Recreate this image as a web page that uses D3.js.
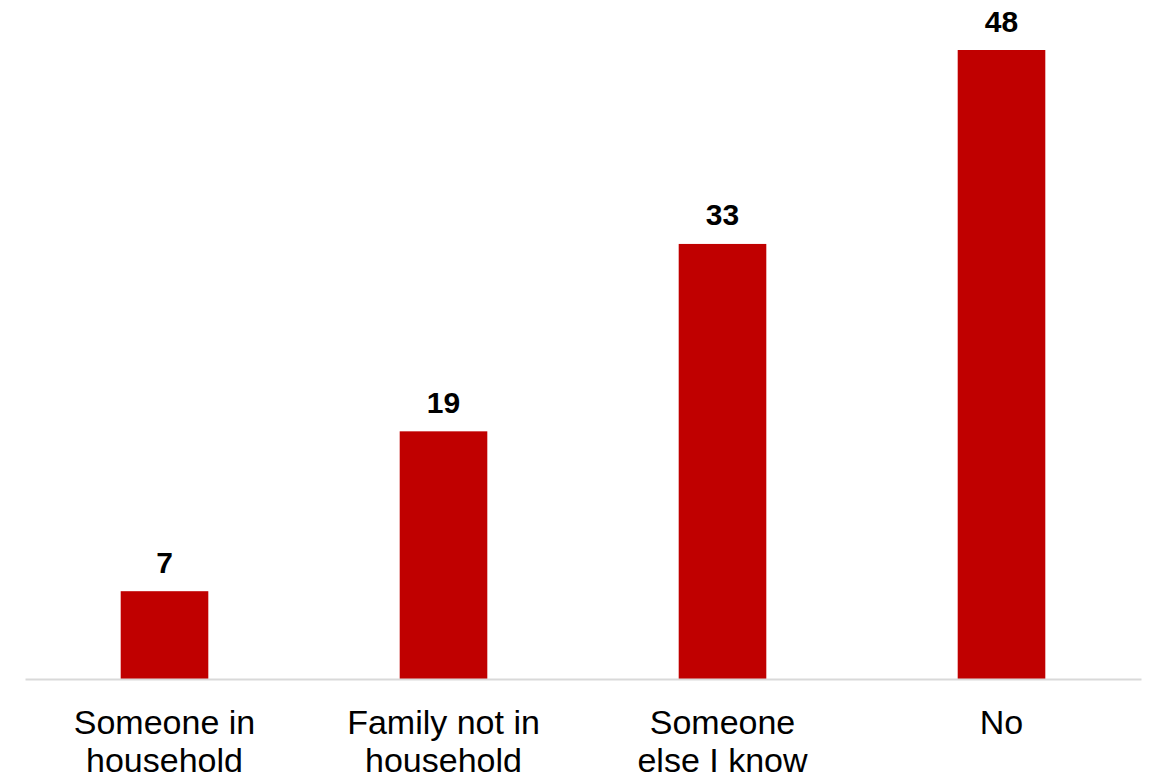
<!DOCTYPE html>
<html>
<head>
<meta charset="utf-8">
<script src="https://cdn.jsdelivr.net/npm/d3@7"></script>
<style>
  html, body { margin: 0; padding: 0; background: #ffffff; }
  svg { display: block; }
  text { font-family: "Liberation Sans", Arial, sans-serif; }
</style>
</head>
<body>
<svg id="chart" width="1150" height="775"></svg>
<script>
const categories = ["Someone in household", "Family not in household", "Someone else I know", "No"];
const categoryLines = [["Someone in", "household"], ["Family not in", "household"], ["Someone", "else I know"], ["No"]];
const values = [6.7, 18.9, 33.2, 48.0];

const svg = d3.select("#chart");
const baseline = 679;

const x = d3.scaleBand()
  .domain(categories)
  .range([25, 1141])
  .paddingInner(0.686)
  .paddingOuter(0.343);

const y = d3.scaleLinear()
  .domain([0, 48])
  .range([baseline, 50]);

const data = categories.map((c, i) => ({ c, v: values[i], lines: categoryLines[i] }));

// bars
svg.append("g").selectAll("rect")
  .data(data)
  .join("rect")
  .attr("x", d => x(d.c))
  .attr("y", d => y(d.v))
  .attr("width", x.bandwidth())
  .attr("height", d => y(0) - y(d.v))
  .attr("fill", "#c00000");

// axis baseline
const axis = d3.axisBottom(x).tickSize(0).tickFormat("");
const gAxis = svg.append("g")
  .attr("transform", `translate(0,${baseline})`)
  .call(axis);
gAxis.select(".domain").attr("stroke", "#d9d9d9").attr("stroke-width", 2);

// value labels
svg.append("g").selectAll("text")
  .data(data)
  .join("text")
  .attr("x", d => x(d.c) + x.bandwidth() / 2)
  .attr("y", d => y(d.v) - 18.5)
  .attr("text-anchor", "middle")
  .attr("font-size", 30)
  .attr("font-weight", "bold")
  .attr("fill", "#000")
  .text(d => d3.format(".0f")(d.v));

// category labels
const cat = svg.append("g").selectAll("text")
  .data(data)
  .join("text")
  .attr("text-anchor", "middle")
  .attr("font-size", 34)
  .attr("fill", "#000");
cat.each(function(d) {
  const t = d3.select(this);
  const cx = x(d.c) + x.bandwidth() / 2;
  d.lines.forEach((line, i) => {
    t.append("tspan")
      .attr("x", cx)
      .attr("y", baseline + 55 + i * 38)
      .text(line);
  });
});
</script>
</body>
</html>
